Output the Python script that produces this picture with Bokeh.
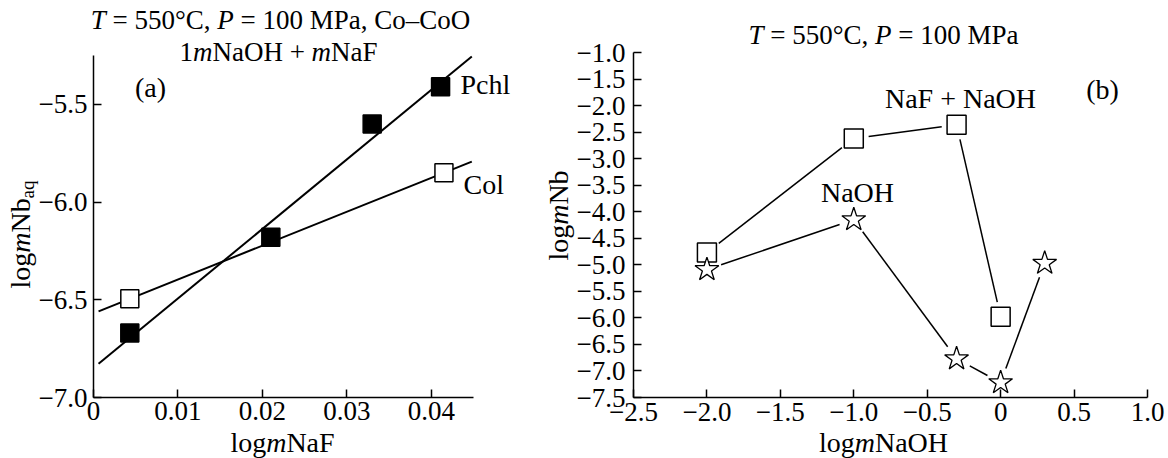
import math
import numpy as np
from bokeh.plotting import figure
from bokeh.models import Label, FixedTicker, Range1d, LinearAxis
from bokeh.layouts import row
from bokeh.embed import file_html
from bokeh.resources import INLINE

# ---------------- data: panel (a) ----------------
pchl_x = [0.0043, 0.0210, 0.0330, 0.0411]
pchl_y = [-6.67, -6.18, -5.60, -5.41]
col_x = [0.0043, 0.0415]
col_y = [-6.495, -5.85]
fit_x_span = [0.0006, 0.0448]

# ---------------- data: panel (b) ----------------
mix_x = [-2.0, -1.0, -0.3, 0.0]          # NaF + NaOH
mix_y = [-4.77, -2.62, -2.36, -5.98]
naoh_x = [-2.0, -1.0, -0.3, 0.0, 0.3]    # NaOH
naoh_y = [-5.09, -4.15, -6.77, -7.22, -4.97]

# ---------------- ticks ----------------
xa_ticks = [0.0, 0.01, 0.02, 0.03, 0.04]
xa_labels = ["0", "0.01", "0.02", "0.03", "0.04"]
ya_ticks = [-7.0, -6.5, -6.0, -5.5]
ya_labels = ["−7.0", "−6.5", "−6.0", "−5.5"]
xb_ticks = [-2.5, -2.0, -1.5, -1.0, -0.5, 0.0, 0.5, 1.0]
xb_labels = ["−2.5", "−2.0", "−1.5", "−1.0", "−0.5", "0", "0.5", "1.0"]
yb_ticks = [-7.5, -7.0, -6.5, -6.0, -5.5, -5.0, -4.5, -4.0, -3.5, -3.0, -2.5, -2.0, -1.5, -1.0]
yb_labels = ["−7.5", "−7.0", "−6.5", "−6.0", "−5.5", "−5.0", "−4.5", "−4.0",
             "−3.5", "−3.0", "−2.5", "−2.0", "−1.5", "−1.0"]

FONT = "Liberation Serif"
TICK_SIZE = 27
TITLE_SIZE = 27
TEXT_SIZE = 28
MID = 0.30   # distance from baseline to text middle, in em

# Times-compatible advance widths (per 1000 em)
REG = {' ': 250, '=': 564, '°': 400, 'C': 667, ',': 250, 'M': 889, 'P': 556, 'a': 444,
       'o': 500, '–': 500, 'O': 722, 'N': 722, 'H': 722, 'F': 556, '+': 564, 'l': 278,
       'g': 500, 'b': 500, 'q': 500, '(': 333, ')': 333, 'h': 500, 'c': 444, 'T': 611, 'm': 778}
ITA = {'T': 556, 'P': 611, 'm': 722}


def text_width(s, style, size):
    tab = ITA if style == "italic" else REG
    return sum(tab.get(ch, REG.get(ch, 500)) for ch in s) / 1000.0 * size


def make_panel(W, H, L, R, T, B, xr, yr, xt, xl, yt, yl, y_standoff, x_standoff, fig_x0):
    """Frame covers the whole canvas; axes are fixed at the data edges."""
    fw, fh = W - L - R, H - T - B
    ux = (xr[1] - xr[0]) / fw
    uy = (yr[1] - yr[0]) / fh
    fxr = (xr[0] - L * ux, xr[1] + R * ux)
    fyr = (yr[0] - B * uy, yr[1] + T * uy)
    p = figure(width=W, height=H, x_range=Range1d(*fxr), y_range=Range1d(*fyr),
               x_axis_type=None, y_axis_type=None,
               output_backend="svg", toolbar_location=None, min_border=0)
    p.outline_line_color = None
    p.background_fill_color = "white"
    p.border_fill_color = "white"
    xa = LinearAxis(fixed_location=yr[0], bounds=xr, ticker=FixedTicker(ticks=xt),
                    major_label_overrides=dict(zip(xt, xl)), major_label_standoff=x_standoff)
    ya = LinearAxis(fixed_location=xr[0], bounds=yr, ticker=FixedTicker(ticks=yt),
                    major_label_overrides=dict(zip(yt, yl)), major_label_standoff=y_standoff)
    for a in (xa, ya):
        a.axis_line_width = 1.5
        a.axis_line_color = "black"
        a.major_tick_line_color = "black"
        a.major_tick_line_width = 1.5
        a.major_tick_in = 8
        a.major_tick_out = 0
        a.minor_tick_line_color = None
        a.major_label_text_font = FONT
        a.major_label_text_font_size = f"{TICK_SIZE}px"
        a.major_label_text_color = "black"
    p.add_layout(xa, "below")
    p.add_layout(ya, "left")

    def to_data(px, py):
        x = fxr[0] + (px - fig_x0) / W * (fxr[1] - fxr[0])
        y = fyr[1] - py / H * (fyr[1] - fyr[0])
        return x, y
    return p, to_data, 1.0 / ux, 1.0 / uy


def rich(p, to_data, ax, ay, pieces, size, align="center", vertical=False):
    """ax, ay: anchor in window pixels; ay (or ax when vertical) is the baseline."""
    ws = [text_width(t, st, size * f) for (t, st, f, sh) in pieces]
    total = sum(ws)
    off = -total / 2 if align == "center" else 0.0
    for (t, st, f, sh), w in zip(pieces, ws):
        fs = size * f
        core = t.strip(" ")
        lead = text_width(t[:len(t) - len(t.lstrip(" "))], st, fs)
        o = off + lead
        if vertical:
            px, py, ang = ax + sh - MID * fs, ay - o, math.pi / 2
        else:
            px, py, ang = ax + o, ay + sh - MID * fs, 0.0
        x, y = to_data(px, py)
        p.add_layout(Label(x=x, y=y, text=core, text_font=FONT,
                           text_font_size=f"{fs:.1f}px", text_font_style=st,
                           text_align="left", text_baseline="middle",
                           angle=ang, text_color="black"))
        off += w


R = "normal"
I = "italic"

# ================= panel (a) =================
A_W = 535
pa, ma, _, _ = make_panel(A_W, 458, 93, A_W - 473, 55, 61, (0.0, 0.045), (-7.0, -5.25),
                          xa_ticks, xa_labels, ya_ticks, ya_labels, 6, 4, 0)

fx = np.array(fit_x_span)
k1, b1 = np.polyfit(pchl_x, pchl_y, 1)
k2, b2 = np.polyfit(col_x, col_y, 1)
pa.line(fx, k1 * fx + b1, line_color="black", line_width=2)
pa.line(fx, k2 * fx + b2, line_color="black", line_width=2)
pa.scatter(pchl_x, pchl_y, marker="square", size=18, fill_color="black", line_color="black", line_width=1.5)
pa.scatter(col_x, col_y, marker="square", size=18, fill_color="white", line_color="black", line_width=1.5)

rich(pa, ma, 280, 28, [("T", I, 1, 0), (" = 550°C, ", R, 1, 0), ("P", I, 1, 0),
                       (" = 100 MPa, Co–CoO", R, 1, 0)], TITLE_SIZE)
rich(pa, ma, 278, 60, [("1", R, 1, 0), ("m", I, 1, 0), ("NaOH + ", R, 1, 0),
                       ("m", I, 1, 0), ("NaF", R, 1, 0)], TITLE_SIZE)
rich(pa, ma, 150, 95, [("(a)", R, 1, 0)], TEXT_SIZE)
rich(pa, ma, 460, 92, [("Pchl", R, 1, 0)], TEXT_SIZE, align="left")
rich(pa, ma, 463, 192, [("Col", R, 1, 0)], TEXT_SIZE, align="left")
rich(pa, ma, 282, 450, [("log", R, 1, 0), ("m", I, 1, 0), ("NaF", R, 1, 0)], TEXT_SIZE)
rich(pa, ma, 28, 234, [("log", R, 1, 0), ("m", I, 1, 0), ("Nb", R, 1, 0), ("aq", R, 0.68, 5)],
     TEXT_SIZE, vertical=True)

# ================= panel (b) =================
B_W = 1168 - A_W
pb, mb, sx, sy = make_panel(B_W, 458, 633 - A_W, 21, 52, 61, (-2.5, 1.0), (-7.5, -1.0),
                            xb_ticks, xb_labels, yb_ticks, yb_labels, 8, 5, A_W)


def gapped(xs, ys, gap):
    x0, y0, x1, y1 = [], [], [], []
    for i in range(len(xs) - 1):
        dxp = (xs[i + 1] - xs[i]) * sx
        dyp = (ys[i + 1] - ys[i]) * sy
        L = math.hypot(dxp, dyp)
        ux, uy = dxp / L, dyp / L
        x0.append(xs[i] + ux * gap / sx)
        y0.append(ys[i] + uy * gap / sy)
        x1.append(xs[i + 1] - ux * gap / sx)
        y1.append(ys[i + 1] - uy * gap / sy)
    return x0, y0, x1, y1


for xs, ys in ((mix_x, mix_y), (naoh_x, naoh_y)):
    s0, t0, s1, t1 = gapped(xs, ys, 15)
    pb.segment(s0, t0, s1, t1, line_color="black", line_width=1.5)

pb.scatter(mix_x, mix_y, marker="square", size=19, fill_color="white", line_color="black", line_width=1.5)
pb.scatter(naoh_x, naoh_y, marker="star", size=25, fill_color="white", line_color="black", line_width=1.3)

rich(pb, mb, 883, 43, [("T", I, 1, 0), (" = 550°C, ", R, 1, 0), ("P", I, 1, 0),
                       (" = 100 MPa", R, 1, 0)], TITLE_SIZE)
rich(pb, mb, 1102, 97, [("(b)", R, 1, 0)], TEXT_SIZE)
rich(pb, mb, 960, 106, [("NaF + NaOH", R, 1, 0)], TEXT_SIZE)
rich(pb, mb, 857, 200, [("NaOH", R, 1, 0)], TEXT_SIZE)
rich(pb, mb, 883, 450, [("log", R, 1, 0), ("m", I, 1, 0), ("NaOH", R, 1, 0)], TEXT_SIZE)
rich(pb, mb, 566, 215, [("log", R, 1, 0), ("m", I, 1, 0), ("Nb", R, 1, 0)], TEXT_SIZE, vertical=True)

layout = row(pa, pb, spacing=0)
open("out.html", "w").write(file_html(layout, INLINE))
